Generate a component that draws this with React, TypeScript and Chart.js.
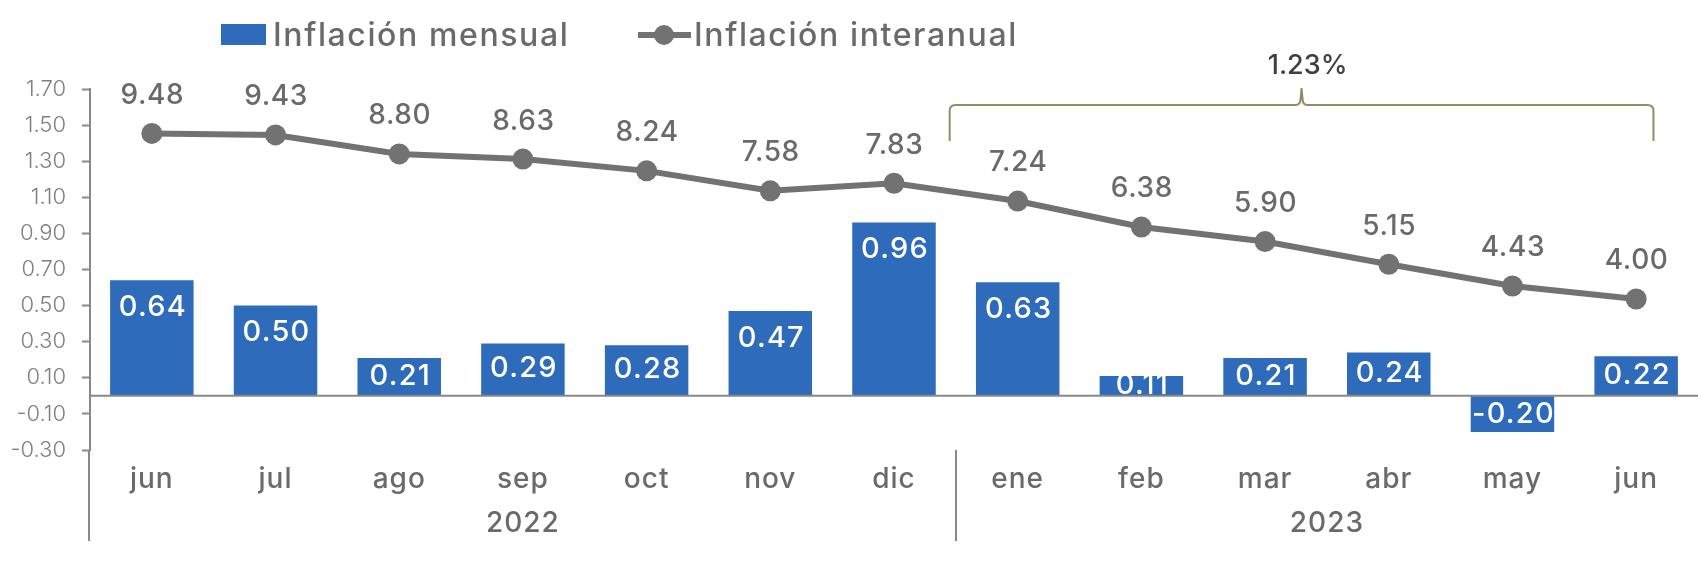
import React, { useEffect, useRef } from 'react';
import { Chart, registerables } from 'chart.js';

Chart.register(...registerables);

const MONTHS = ['jun', 'jul', 'ago', 'sep', 'oct', 'nov', 'dic', 'ene', 'feb', 'mar', 'abr', 'may', 'jun'];
const YEARS = ['2022', '2023'];
const YEAR_SPANS = [7, 6];
const MONTHLY = [0.64, 0.5, 0.21, 0.29, 0.28, 0.47, 0.96, 0.63, 0.11, 0.21, 0.24, -0.2, 0.22];
const ANNUAL = [9.48, 9.43, 8.8, 8.63, 8.24, 7.58, 7.83, 7.24, 6.38, 5.9, 5.15, 4.43, 4.0];
const Y_TICKS = [-0.3, -0.1, 0.1, 0.3, 0.5, 0.7, 0.9, 1.1, 1.3, 1.5, 1.7];
const SERIES_NAMES = ['Inflación mensual', 'Inflación interanual'];
const BRACE_LABEL = '1.23%';
const BRACE_RANGE = [6.45, 12.14];

const FONT = 'Inter, "DejaVu Sans", sans-serif';
const BLUE = '#2E6BBB';
const LINE_GRAY = '#727272';
const TEXT_GRAY = '#6A6A6A';
const AXIS_GRAY = '#888888';
const BRACE_COLOR = '#8E8E66';

const overlay = {
  id: 'overlay',
  afterDatasetsDraw(chart: any) {
    const ctx = chart.ctx;
    const area = chart.chartArea;
    const x = chart.scales.x;
    const y = chart.scales.y;
    ctx.save();

    // zero line (category axis line)
    const y0 = y.getPixelForValue(0);
    ctx.strokeStyle = AXIS_GRAY;
    ctx.lineWidth = 2;
    ctx.beginPath();
    ctx.moveTo(area.left, y0);
    ctx.lineTo(area.right, y0);
    ctx.stroke();

    // group separators and year labels
    let start = 0;
    const seps = [start - 0.5];
    YEAR_SPANS.forEach((n) => {
      start += n;
      seps.push(start - 0.5);
    });
    ctx.beginPath();
    seps.slice(0, -1).forEach((s) => {
      const px = Math.round(x.getPixelForValue(s)) + (s < 0 ? -1 : 0);
      ctx.moveTo(px, area.bottom);
      ctx.lineTo(px, area.bottom + 91);
    });
    ctx.stroke();

    ctx.textAlign = 'center';
    ctx.textBaseline = 'middle';

    ctx.fillStyle = TEXT_GRAY;
    ctx.font = `500 28px ${FONT}`;
    ctx.letterSpacing = '1px';
    let acc = 0;
    YEARS.forEach((yr, i) => {
      const mid = acc + (YEAR_SPANS[i] - 1) / 2;
      ctx.fillText(yr, x.getPixelForValue(mid), area.bottom + 74);
      acc += YEAR_SPANS[i];
    });

    // bar labels
    const barMeta = chart.getDatasetMeta(0);
    ctx.fillStyle = '#FFFFFF';
    ctx.font = `500 29px ${FONT}`;
    ctx.letterSpacing = '1.2px';
    barMeta.data.forEach((el: any, i: number) => {
      const v = MONTHLY[i];
      const top = Math.min(el.y, el.base);
      const bot = Math.max(el.y, el.base);
      const mid = (top + bot) / 2;
      const cy = v >= 0 ? Math.min(top + 28, mid) - 1 : mid;
      ctx.fillText(v.toFixed(2), el.x + 1, cy);
    });

    // line labels
    const lineMeta = chart.getDatasetMeta(1);
    ctx.fillStyle = TEXT_GRAY;
    ctx.font = `500 28px ${FONT}`;
    ctx.letterSpacing = '0.6px';
    lineMeta.data.forEach((el: any, i: number) => {
      ctx.fillText(ANNUAL[i].toFixed(2), el.x + 0.5, el.y - 38);
    });

    // brace
    const bl = x.getPixelForValue(BRACE_RANGE[0]);
    const br = x.getPixelForValue(BRACE_RANGE[1]);
    const bm = (bl + br) / 2;
    const hy = area.top + 16;
    const ey = area.top + 52;
    const ty = area.top - 1;
    const r = 6;
    ctx.strokeStyle = BRACE_COLOR;
    ctx.lineWidth = 2;
    ctx.beginPath();
    ctx.moveTo(bl, ey);
    ctx.lineTo(bl, hy + r);
    ctx.quadraticCurveTo(bl, hy, bl + r, hy);
    ctx.lineTo(bm - r, hy);
    ctx.quadraticCurveTo(bm - 1, hy, bm - 1, hy - r);
    ctx.lineTo(bm, ty);
    ctx.lineTo(bm + 1, hy - r);
    ctx.quadraticCurveTo(bm + 1, hy, bm + r, hy);
    ctx.lineTo(br - r, hy);
    ctx.quadraticCurveTo(br, hy, br, hy + r);
    ctx.lineTo(br, ey);
    ctx.stroke();

    ctx.fillStyle = '#404040';
    ctx.font = `500 27px ${FONT}`;
    ctx.letterSpacing = '0px';
    ctx.fillText(BRACE_LABEL, bm + 6, area.top - 23);

    // legend
    ctx.font = `500 32px ${FONT}`;
    ctx.letterSpacing = '1.6px';
    ctx.textAlign = 'left';
    ctx.fillStyle = BLUE;
    ctx.fillRect(221, 24, 45, 21);
    ctx.fillStyle = TEXT_GRAY;
    ctx.fillText(SERIES_NAMES[0], 273, 36);

    ctx.strokeStyle = LINE_GRAY;
    ctx.lineWidth = 6;
    ctx.beginPath();
    ctx.moveTo(638, 35);
    ctx.lineTo(691, 35);
    ctx.stroke();
    ctx.fillStyle = LINE_GRAY;
    ctx.beginPath();
    ctx.arc(664, 35, 10, 0, Math.PI * 2);
    ctx.fill();
    ctx.fillStyle = TEXT_GRAY;
    ctx.fillText(SERIES_NAMES[1], 694, 36);

    ctx.restore();
  },
};

export default function App() {
  const ref = useRef<HTMLCanvasElement>(null);
  useEffect(() => {
    if (!ref.current) return;
    const chart = new Chart(ref.current, {
      type: 'bar',
      data: {
        labels: MONTHS,
        datasets: [
          {
            type: 'bar',
            label: SERIES_NAMES[0],
            data: MONTHLY,
            backgroundColor: BLUE,
            barPercentage: 0.675,
            categoryPercentage: 1,
            yAxisID: 'y',
            order: 1,
          },
          {
            type: 'line',
            label: SERIES_NAMES[1],
            data: ANNUAL,
            borderColor: LINE_GRAY,
            backgroundColor: LINE_GRAY,
            borderWidth: 6,
            pointRadius: 10.5,
            pointBackgroundColor: LINE_GRAY,
            pointBorderWidth: 0,
            yAxisID: 'y1',
            order: 0,
          } as any,
        ],
      },
      options: {
        responsive: false,
        animation: false,
        layout: { autoPadding: false, padding: { top: 89, left: 0, right: 0, bottom: 0 } },
        plugins: { legend: { display: false }, tooltip: { enabled: false } },
        scales: {
          x: {
            offset: true,
            grid: { display: false, drawTicks: false },
            border: { display: false },
            ticks: { color: TEXT_GRAY, font: { family: FONT, size: 28, weight: 500 as any }, padding: 13, maxRotation: 0 },
            afterFit: (s: any) => {
              s.height = 138;
              if (!s._lsPatched) {
                s._lsPatched = true;
                const orig = s.drawLabels;
                s.drawLabels = function (a: any) {
                  const c = this.ctx;
                  c.save();
                  c.letterSpacing = '1px';
                  orig.call(this, a);
                  c.restore();
                };
              }
            },
          },
          y: {
            min: -0.3,
            max: 1.7,
            afterBuildTicks: (s: any) => {
              s.ticks = Y_TICKS.map((v) => ({ value: v }));
            },
            grid: { drawOnChartArea: false, tickLength: 8, tickColor: AXIS_GRAY, tickWidth: 2 },
            border: { display: true, color: AXIS_GRAY, width: 2 },
            ticks: {
              color: '#7F7F7F',
              font: { family: FONT, size: 22, weight: 300 as any },
              padding: 16,
              callback: (v: any) => Number(v).toFixed(2),
            },
            afterFit: (s: any) => {
              s.width = 90;
            },
          },
          y1: { display: false, min: -1, max: 10.95 },
        },
      },
      plugins: [overlay],
    });
    return () => chart.destroy();
  }, []);
  return (
    <div style={{ position: 'absolute', left: 0, top: 0, width: 1698, height: 588, background: '#fff' }}>
      <canvas ref={ref} width={1698} height={588} style={{ width: 1698, height: 588 }} />
    </div>
  );
}
